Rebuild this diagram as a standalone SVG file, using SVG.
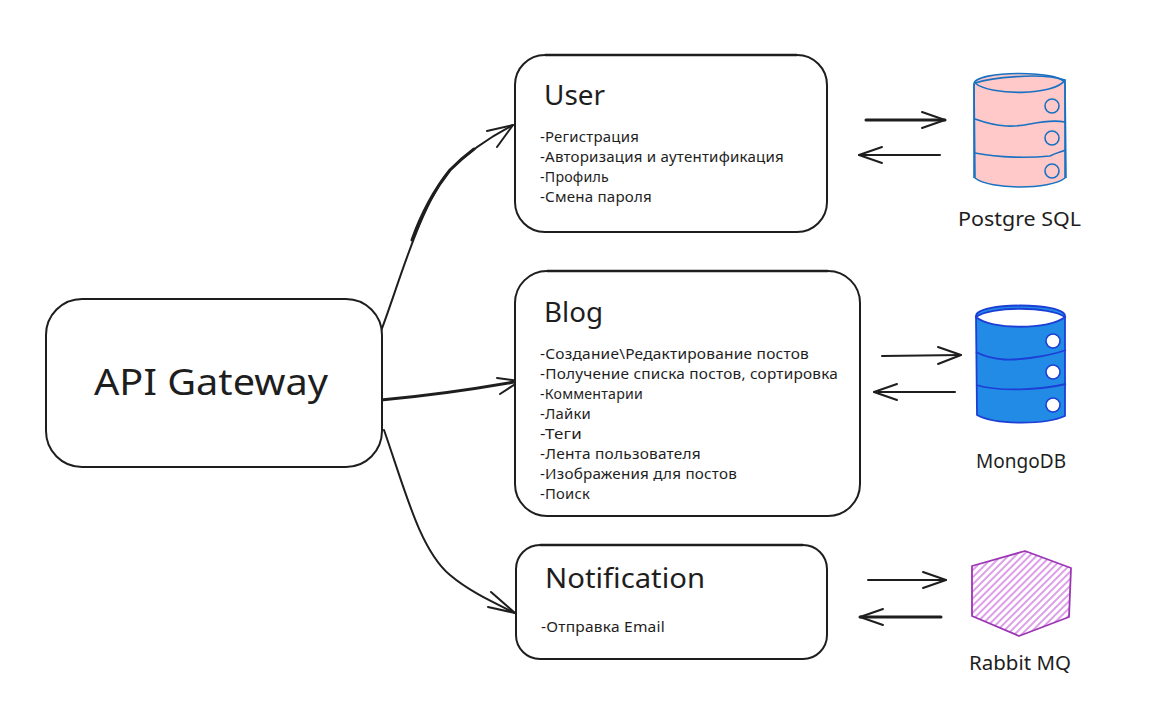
<svg xmlns="http://www.w3.org/2000/svg" width="1169" height="713" viewBox="0 0 1169 713">
<style>
text{font-family:"Noto Sans","DejaVu Sans",sans-serif;fill:#1e1e1e}
.b{font-size:14px;letter-spacing:.2px}
.t{font-size:27px}
.l{font-size:19px}
.box{fill:#fff;stroke:#1e1e1e;stroke-width:2}
.c{fill:none;stroke:#1e1e1e;stroke-width:2;stroke-linecap:round;stroke-linejoin:round}
.bold{stroke-width:3}
.top{fill:none;stroke:#1e1e1e;stroke-width:2.6}
.pg{fill:#ffc9c9;stroke:#1971c2;stroke-width:1.6;stroke-linejoin:round}
.pgl{fill:none;stroke:#1971c2;stroke-width:1.6}
.mg{fill:#228be6;stroke:#1c3fd6;stroke-width:1.8;stroke-linejoin:round}
.mgl{fill:none;stroke:#1c3fd6;stroke-width:1.8}
</style>
<defs>
<pattern id="hatch" width="5" height="5" patternUnits="userSpaceOnUse" patternTransform="rotate(-45)">
<rect width="5" height="5" fill="#fff"/>
<rect width="5" height="2" fill="#dc9fe8"/>
</pattern>
</defs>
<g id="connectors">
<path class="c" d="M381 331C398 287 420 205 450 170C470 150 490 137 513 125"/>
<path class="c bold" d="M412 240C422 212 434 190 450 170C458 162 466 155 474 149"/>
<path class="c" d="M487 131L513 125L497 147"/>
<path class="c bold" d="M381 400C425 396 470 390 520 381"/>
<path class="c" d="M497 378L520 381L500 394"/>
<path class="c" d="M384 430C405 490 420 550 450 575C470 592 495 603 515 613"/>
<path class="c" d="M491 592L515 613L488 607"/>
<path class="c bold" d="M866 120L945 120"/>
<path class="c" d="M922 112L945 120L922 128"/>
<path class="c" d="M940 155L859 155"/>
<path class="c" d="M882 147L859 155L882 163"/>
<path class="c" d="M882 356L961 355"/>
<path class="c" d="M938 347L961 355L938 364"/>
<path class="c" d="M955 392L874 392"/>
<path class="c" d="M897 384L874 392L897 400"/>
<path class="c" d="M868 580L946 580"/>
<path class="c" d="M923 572L946 580L923 588"/>
<path class="c bold" d="M941 617L860 617"/>
<path class="c" d="M883 609L860 617L883 625"/>
</g>
<g id="api-gateway">
<rect class="box" x="46" y="299" width="336" height="168" rx="36"/>
<text x="94" y="395" font-size="36" textLength="234" lengthAdjust="spacingAndGlyphs">API Gateway</text>
</g>
<g id="user">
<rect class="box" x="515" y="55" width="312" height="177" rx="30"/>
<path class="top" d="M545 55L797 55"/>
<text class="t" x="544" y="105" textLength="61" lengthAdjust="spacingAndGlyphs">User</text>
<text class="b" x="540" y="142" textLength="99" lengthAdjust="spacingAndGlyphs">-Регистрация</text>
<text class="b" x="540" y="162" textLength="244" lengthAdjust="spacingAndGlyphs">-Авторизация и аутентификация</text>
<text class="b" x="540" y="182" textLength="69" lengthAdjust="spacingAndGlyphs">-Профиль</text>
<text class="b" x="540" y="202" textLength="112" lengthAdjust="spacingAndGlyphs">-Смена пароля</text>
</g>
<g id="blog">
<rect class="box" x="515" y="271" width="345" height="245" rx="32"/>
<path class="top" d="M547 271L828 271"/>
<text class="t" x="544" y="322" textLength="59" lengthAdjust="spacingAndGlyphs">Blog</text>
<text class="b" x="540" y="359" textLength="269" lengthAdjust="spacingAndGlyphs">-Создание\Редактирование постов</text>
<text class="b" x="540" y="379" textLength="298" lengthAdjust="spacingAndGlyphs">-Получение списка постов, сортировка</text>
<text class="b" x="540" y="399" textLength="103" lengthAdjust="spacingAndGlyphs">-Комментарии</text>
<text class="b" x="540" y="419" textLength="51" lengthAdjust="spacingAndGlyphs">-Лайки</text>
<text class="b" x="540" y="439" textLength="42" lengthAdjust="spacingAndGlyphs">-Теги</text>
<text class="b" x="540" y="459" textLength="161" lengthAdjust="spacingAndGlyphs">-Лента пользователя</text>
<text class="b" x="540" y="479" textLength="197" lengthAdjust="spacingAndGlyphs">-Изображения для постов</text>
<text class="b" x="540" y="499" textLength="50" lengthAdjust="spacingAndGlyphs">-Поиск</text>
</g>
<g id="notification">
<rect class="box" x="516" y="545" width="311" height="114" rx="24"/>
<path class="top" d="M540 545L803 545"/>
<text class="t" x="545" y="588" textLength="160" lengthAdjust="spacingAndGlyphs">Notification</text>
<text class="b" x="541" y="632" textLength="124" lengthAdjust="spacingAndGlyphs">-Отправка Email</text>
</g>
<g id="postgre-sql">
<path class="pg" d="M974 84C974 70 1065 70 1065 84L1065 178C1050 190 990 190 975 178Z"/>
<path class="pgl" d="M975 83C990 78 1040 72 1065 80C1055 96 990 96 975 83"/>
<path class="pgl" d="M975 119C1000 128 1015 127 1030 124C1045 121 1055 120 1065 122"/>
<path class="pgl" d="M975 153C1000 158 1030 158 1050 156C1058 152 1062 152 1065 150"/>
<path class="pgl" d="M974 84L974 178M1065 80L1066 178"/>
<circle class="pgl" cx="1052" cy="106" r="7"/>
<circle class="pgl" cx="1052" cy="138" r="7"/>
<circle class="pgl" cx="1052" cy="171" r="7"/>
<text class="l" x="958" y="226" textLength="123" lengthAdjust="spacingAndGlyphs">Postgre SQL</text>
</g>
<g id="mongodb">
<path class="mg" d="M976 316C976 302 1065 302 1065 316L1065 416C1045 425 995 425 977 415Z"/>
<path d="M976 317C990 306 1050 306 1065 317C1050 330 990 330 976 317Z" fill="#fff" stroke="#1c3fd6" stroke-width="1.8"/>
<path class="mgl" d="M976 352C995 362 1015 360 1030 358C1045 356 1055 354 1066 350"/>
<path class="mgl" d="M976 385C1000 392 1040 390 1066 384"/>
<circle cx="1053" cy="341" r="7" fill="#fff" stroke="#1c3fd6" stroke-width="1.6"/>
<circle cx="1053" cy="372" r="7" fill="#fff" stroke="#1c3fd6" stroke-width="1.6"/>
<circle cx="1053" cy="405" r="7" fill="#fff" stroke="#1c3fd6" stroke-width="1.6"/>
<text class="l" x="976" y="468" textLength="90" lengthAdjust="spacingAndGlyphs">MongoDB</text>
</g>
<g id="rabbit-mq">
<path d="M1025 551L1071 568L1069 617L1019 636L972 616L972 566Z" fill="url(#hatch)" stroke="#9c36b5" stroke-width="1.8" stroke-linejoin="round"/>
<text class="l" x="969" y="670" textLength="102" lengthAdjust="spacingAndGlyphs">Rabbit MQ</text>
</g>
</svg>
